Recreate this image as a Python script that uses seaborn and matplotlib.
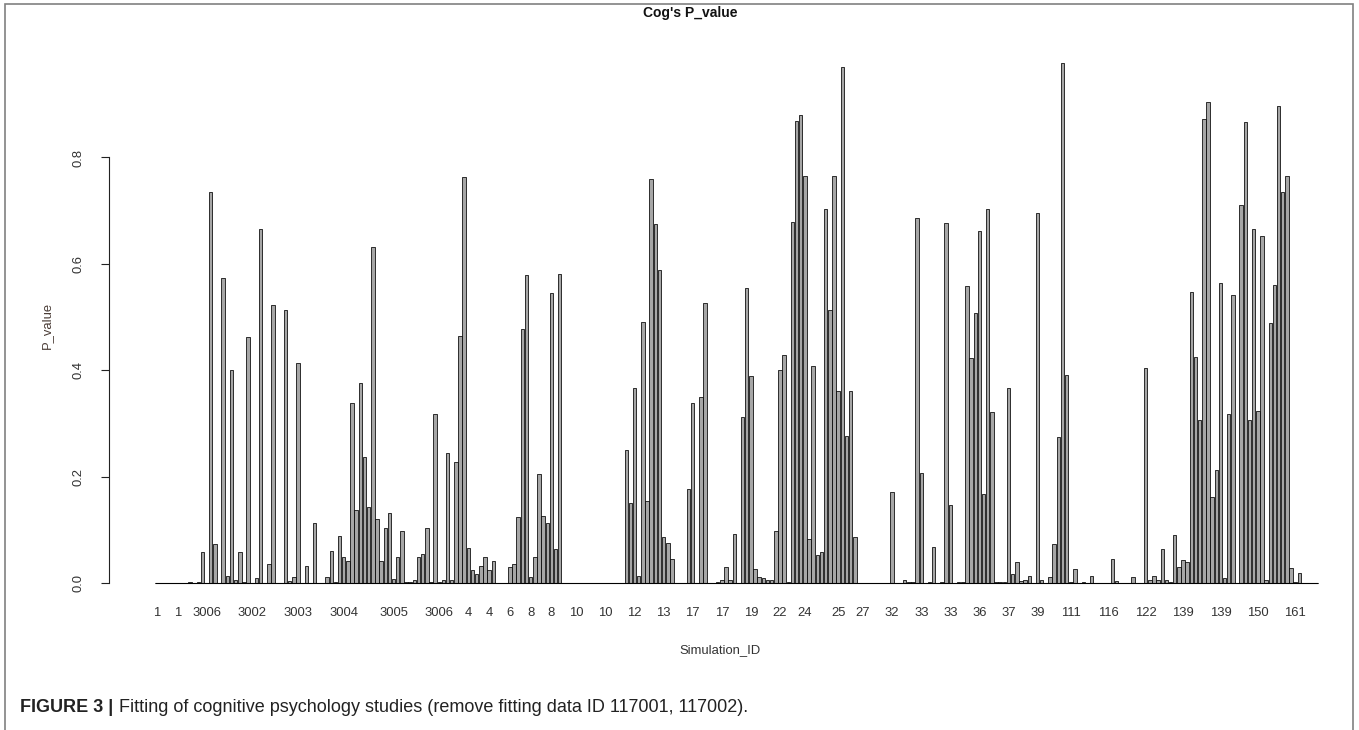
import numpy as np
import pandas as pd
import matplotlib
matplotlib.use("Agg")
import matplotlib.pyplot as plt
import seaborn as sns
from matplotlib.patches import Rectangle

# ---------------- data ----------------
p_value = [
    0, 0, 0, 0, 0, 0, 0, 0, 0.002, 0, 0.002, 0.058, 0, 0.736, 0.074, 0, 0.573, 0.014, 0.400, 0.005,
    0.058, 0.002, 0.462, 0, 0.009, 0.665, 0, 0.035, 0.522, 0, 0, 0.514, 0.004, 0.012, 0.414, 0, 0.032, 0, 0.112, 0,
    0, 0.011, 0.060, 0.002, 0.088, 0.048, 0.041, 0.338, 0.137, 0.376, 0.237, 0.142, 0.631, 0.120, 0.041, 0.104, 0.131, 0.007, 0.049, 0.097,
    0.001, 0.002, 0.005, 0.048, 0.055, 0.103, 0.002, 0.317, 0.001, 0.005, 0.244, 0.005, 0.228, 0.464, 0.763, 0.065, 0.025, 0.016, 0.032, 0.048,
    0.025, 0.041, 0, 0, 0, 0.030, 0.036, 0.124, 0.478, 0.579, 0.011, 0.048, 0.204, 0.126, 0.112, 0.545, 0.063, 0.581, 0, 0,
    0, 0, 0, 0, 0, 0, 0, 0, 0, 0, 0, 0, 0, 0.250, 0.150, 0.367, 0.014, 0.491, 0.155, 0.759,
    0.674, 0.588, 0.086, 0.076, 0.045, 0, 0, 0, 0.176, 0.338, 0, 0.349, 0.527, 0, 0, 0.001, 0.006, 0.031, 0.005, 0.092,
    0, 0.313, 0.555, 0.390, 0.027, 0.011, 0.009, 0.005, 0.006, 0.097, 0.400, 0.428, 0.001, 0.678, 0.869, 0.880, 0.765, 0.083, 0.408, 0.053,
    0.059, 0.703, 0.514, 0.765, 0.361, 0.970, 0.276, 0.361, 0.086, 0, 0, 0, 0, 0, 0, 0, 0, 0.171, 0, 0,
    0.005, 0.002, 0.001, 0.686, 0.207, 0, 0.002, 0.068, 0, 0.002, 0.676, 0.146, 0, 0.002, 0.001, 0.558, 0.423, 0.507, 0.662, 0.167,
    0.703, 0.322, 0.001, 0.001, 0.002, 0.367, 0.016, 0.040, 0.003, 0.006, 0.014, 0, 0.696, 0.006, 0, 0.011, 0.074, 0.275, 0.978, 0.391,
    0.001, 0.027, 0, 0.001, 0, 0.014, 0, 0, 0, 0, 0.045, 0.004, 0, 0, 0, 0.011, 0, 0, 0.405, 0.005,
    0.014, 0.006, 0.063, 0.006, 0.002, 0.091, 0.030, 0.043, 0.040, 0.547, 0.424, 0.306, 0.872, 0.904, 0.162, 0.212, 0.564, 0.010, 0.318, 0.541,
    0, 0.711, 0.866, 0.306, 0.665, 0.323, 0.653, 0.005, 0.489, 0.561, 0.896, 0.736, 0.765, 0.029, 0.001, 0.018, 0, 0, 0, 0,
]

tick_labels = ["1", "1", "3006", "3002", "3003", "3004", "3005", "3006", "4", "4", "6", "8", "8",
               "10", "10", "12", "13", "17", "17", "19", "22", "24", "25", "27", "32", "33", "33",
               "36", "37", "39", "111", "116", "122", "139", "139", "150", "161"]
tick_bars = [0, 5, 12, 23, 34, 45, 57, 68, 75, 80, 85, 90, 95,
             101, 108, 115, 122, 129, 136, 143, 150, 156, 164, 170, 177, 184, 191,
             198, 205, 212, 220, 229, 238, 247, 256, 265, 274]

y_ticks = [0.0, 0.2, 0.4, 0.6, 0.8]

# ---------------- layout ----------------
W, H, DPI = 1359, 730, 100
sns.set_theme(style="white")
plt.rcParams['font.family'] = ['Liberation Sans', 'DejaVu Sans']

PITCH = 4.155      # px per bar
X0 = 156.73        # px centre of first bar
AX_L, AX_R = 108.5, 1345.0
BASE, PX_UNIT = 583.0, 531.9
AX_T, AX_B = 50.0, 600.0
TXT = "#333333"

fig = plt.figure(figsize=(W / DPI, H / DPI), dpi=DPI)
fig.patch.set_facecolor("white")
ax = fig.add_axes([AX_L / W, 1 - AX_B / H, (AX_R - AX_L) / W, (AX_B - AX_T) / H])
ax.set_facecolor("white")

bar_w = 1 / 1.2
df = pd.DataFrame({"Simulation_ID": np.arange(len(p_value)), "P_value": p_value})
sns.barplot(data=df, x="Simulation_ID", y="P_value", color="#a6a6a6", saturation=1,
            edgecolor="black", linewidth=0.55, width=bar_w, errorbar=None, ax=ax)
ax.hlines(0, -bar_w / 2, len(p_value) - 1 + bar_w / 2, color="black", lw=0.8, zorder=3)

ax.set_xlim((AX_L - X0) / PITCH, (AX_R - X0) / PITCH)
ax.set_ylim((BASE - AX_B) / PX_UNIT, (BASE - AX_T) / PX_UNIT)

for s in ["top", "right", "bottom"]:
    ax.spines[s].set_visible(False)
ax.spines["left"].set_bounds(y_ticks[0], y_ticks[-1])
ax.spines["left"].set_color("#222222")
ax.spines["left"].set_linewidth(0.8)

ax.set_yticks(y_ticks)
ax.set_yticklabels([f"{v:.1f}" for v in y_ticks], rotation=90, va="center",
                   fontsize=9.4, color=TXT)
ax.tick_params(axis="y", direction="out", length=6, width=0.8, color="#222222", pad=11, left=True)

ax.set_xticks(tick_bars)
ax.set_xticklabels(tick_labels, fontsize=9.4, color=TXT)
ax.tick_params(axis="x", length=0, pad=5)
ax.set_xlabel("")
ax.set_ylabel("")

# titles / axis labels
fig.text(690 / W, 1 - 13 / H, "Cog's P_value", ha="center", va="center",
         fontsize=10, fontweight="bold", color="#111111")
fig.text(720 / W, 1 - 650 / H, "Simulation_ID", ha="center", va="center",
         fontsize=9.4, color=TXT)
fig.text(47 / W, 1 - 325 / H, "P_value", ha="center", va="center", rotation=90,
         fontsize=9.4, color="#4a3c36")

# caption
cap1 = fig.text(20 / W, 1 - 707 / H, "FIGURE 3 |", ha="left", va="center",
                fontsize=13, fontweight="bold", color="#222222")
fig.canvas.draw()
bb = cap1.get_window_extent()
fig.text((bb.x1 + 6) / W, 1 - 707 / H,
         "Fitting of cognitive psychology studies (remove fitting data ID 117001, 117002).",
         ha="left", va="center", fontsize=13, color="#222222")

# outer frame
fig.add_artist(Rectangle((5 / W, -0.1), (1353 - 5) / W, 1.1 - 4 / H, transform=fig.transFigure,
                         fill=False, edgecolor="#808080", lw=1.2))

fig.savefig("out.png", dpi=DPI)
